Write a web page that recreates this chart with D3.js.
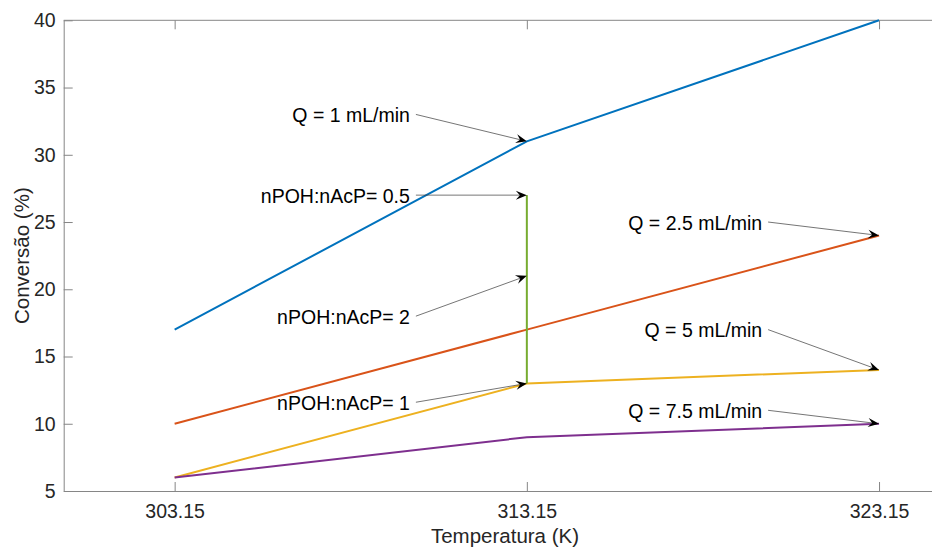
<!DOCTYPE html>
<html><head><meta charset="utf-8">
<script src="https://cdn.jsdelivr.net/npm/d3@7"></script>
<style>body{margin:0;background:#fff;} svg{display:block;}</style>
</head><body>
<svg id="c" width="932" height="547"></svg>
<script>
const temps = [303.15, 313.15, 323.15];
const xTicks = [303.15, 313.15, 323.15];
const yTicks = [5, 10, 15, 20, 25, 30, 35, 40];
const q1 = [17, 31, 40];
const q25 = [10, 17, 24];
const q5 = [6, 13, 14];
const q75 = [6, 9, 10];
const ratioX = [313.15, 313.15, 313.15];
const ratioY = [13, 21, 27];
const colors = ["#0072BD", "#D95319", "#EDB120", "#7E2F8E", "#77AC30"];
// annotations: label, tail (x,y) in data units, head (x,y) in data units
const annLabels = ["Q = 1 mL/min", "nPOH:nAcP= 0.5", "nPOH:nAcP= 2", "nPOH:nAcP= 1", "Q = 2.5 mL/min", "Q = 5 mL/min", "Q = 7.5 mL/min"];
const annTailX = [310, 310, 310, 310, 320, 320, 320];
const annTailY = [33, 27, 18, 11.6, 25, 17, 11];
const annHeadX = [313.15, 313.15, 313.15, 313.15, 323.15, 323.15, 323.15];
const annHeadY = [31, 27, 21, 13, 24, 14, 10];

const svg = d3.select("#c");
const L = 63.7, T = 20.3, B = 491, pxPerUnit = 35.22;
const x = d3.scaleLinear().domain([300, 327]).range([L, L + 27 * pxPerUnit]);
const y = d3.scaleLinear().domain([5, 40]).range([B, T]);
const font = "'Liberation Sans', Arial, Helvetica, sans-serif";
const axisCol = "#868686";

// box lines
svg.append("line").attr("x1", L).attr("x2", x(327)).attr("y1", T).attr("y2", T).attr("stroke", axisCol).attr("stroke-width", 1);

const xAxis = d3.axisBottom(x).tickValues(xTicks).tickFormat(d3.format(".2f")).tickSizeInner(-9).tickSizeOuter(0).tickPadding(13);
const gx = svg.append("g").attr("transform", `translate(0,${B})`).call(xAxis);
const yAxis = d3.axisLeft(y).tickValues(yTicks).tickSizeInner(-9).tickSizeOuter(0).tickPadding(8);
const gy = svg.append("g").attr("transform", `translate(${L},0)`).call(yAxis);
// top ticks
svg.append("g").attr("transform", `translate(0,${T})`)
  .call(d3.axisTop(x).tickValues(xTicks).tickSizeInner(-9).tickSizeOuter(0).tickFormat(""))
  .select(".domain").remove();
[gx, gy].forEach(g => {
  g.select(".domain").attr("stroke", axisCol);
  g.selectAll("text").attr("font-family", font).attr("font-size", 19.5).attr("fill", "#262626");
});
svg.selectAll(".tick line").attr("stroke", axisCol);

// axis labels
svg.append("text").attr("x", 505).attr("y", 543).attr("text-anchor", "middle")
  .attr("font-family", font).attr("font-size", 20.5).attr("fill", "#262626").text("Temperatura (K)");
svg.append("text").attr("transform", `translate(29,${(T + B) / 2}) rotate(-90)`).attr("text-anchor", "middle")
  .attr("font-family", font).attr("font-size", 20.5).attr("fill", "#262626").text("Conversão (%)");

const line = d3.line().x(d => x(d[0])).y(d => y(d[1]));
const series = [q1, q25, q5, q75];
series.forEach((s, i) => {
  svg.append("path").datum(temps.map((t, j) => [t, s[j]])).attr("d", line)
    .attr("fill", "none").attr("stroke", colors[i]).attr("stroke-width", 2);
});
svg.append("path").datum(ratioX.map((t, j) => [t, ratioY[j]])).attr("d", line)
  .attr("fill", "none").attr("stroke", colors[4]).attr("stroke-width", 2);

// annotations
annLabels.forEach((lab, i) => {
  const x0 = x(annTailX[i]), y0 = y(annTailY[i]), x1 = x(annHeadX[i]), y1 = y(annHeadY[i]);
  const ang = Math.atan2(y1 - y0, x1 - x0);
  const len = 11, wid = 4.5, back = 7;
  const bx = x1 - len * Math.cos(ang), by = y1 - len * Math.sin(ang);
  const px = -Math.sin(ang), py = Math.cos(ang);
  const nx = x1 - back * Math.cos(ang), ny = y1 - back * Math.sin(ang);
  svg.append("line").attr("x1", x0).attr("y1", y0).attr("x2", nx).attr("y2", ny)
    .attr("stroke", "#3a3a3a").attr("stroke-width", 0.7);
  svg.append("path").attr("d", `M${x1},${y1} L${bx + px * wid},${by + py * wid} L${nx},${ny} L${bx - px * wid},${by - py * wid} Z`)
    .attr("fill", "#000");
  svg.append("text").attr("x", x0 - 6).attr("y", y0 + 1).attr("dy", "0.35em").attr("text-anchor", "end")
    .attr("font-family", font).attr("font-size", 19.5).attr("fill", "#000").text(lab);
});
</script>
</body></html>
